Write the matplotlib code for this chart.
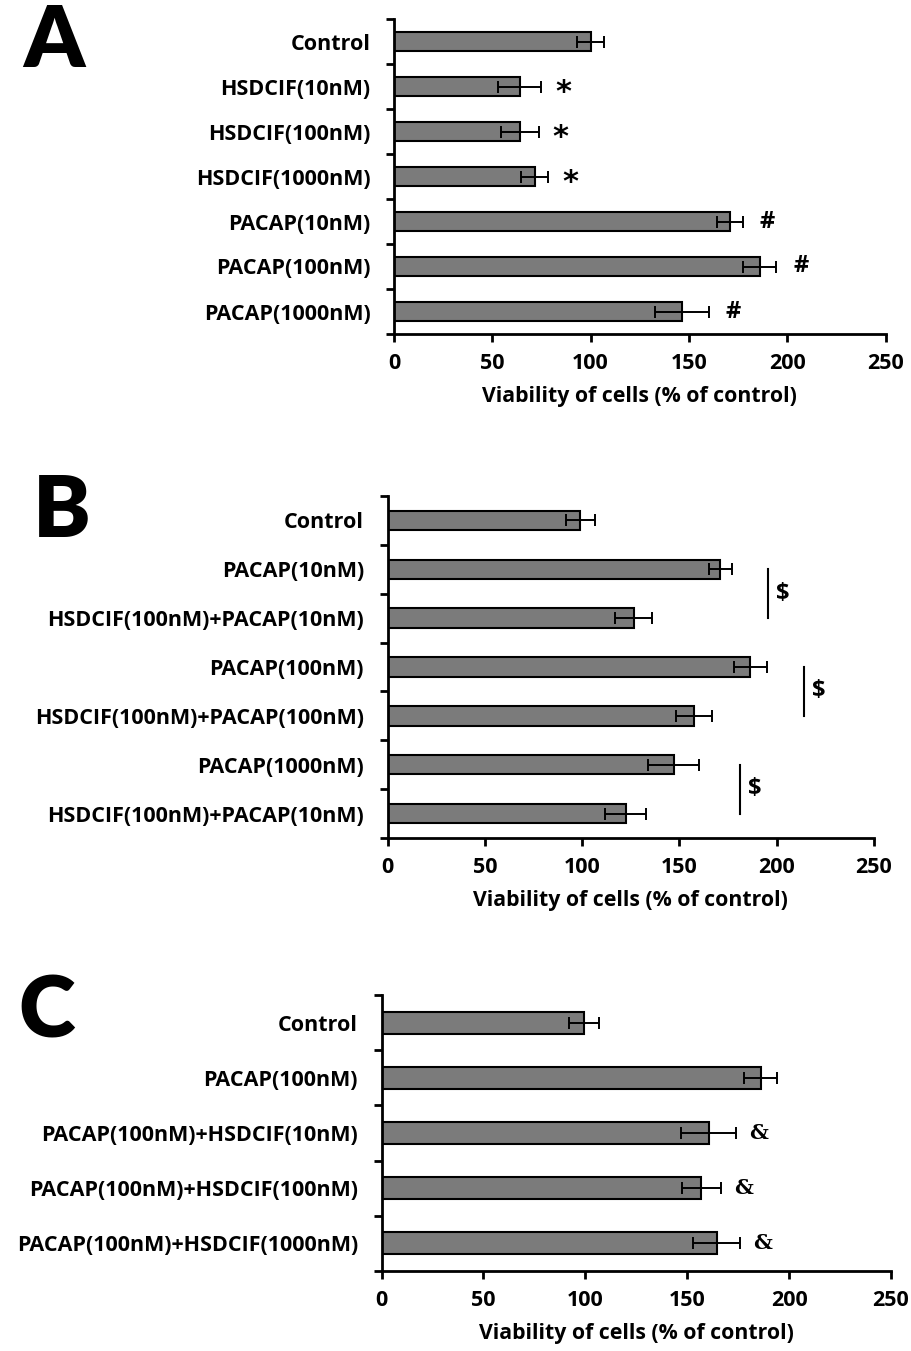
import numpy as np
import matplotlib
matplotlib.use("Agg")
import matplotlib.pyplot as plt

plt.rcParams['font.family'] = ['Open Sans', 'DejaVu Sans']
plt.rcParams['font.weight'] = 'bold'

# panel A
cats_a = ['Control', 'HSDCIF(10nM)', 'HSDCIF(100nM)', 'HSDCIF(1000nM)',
          'PACAP(10nM)', 'PACAP(100nM)', 'PACAP(1000nM)']
vals_a = [100, 64, 64, 71.5, 171, 186, 146.5]
errs_a = [7, 11, 9.5, 7, 6.5, 8.5, 13.5]
marks_a = ['', '*', '*', '*', '#', '#', '#']

# panel B
cats_b = ['Control', 'PACAP(10nM)', 'HSDCIF(100nM)+PACAP(10nM)', 'PACAP(100nM)',
          'HSDCIF(100nM)+PACAP(100nM)', 'PACAP(1000nM)', 'HSDCIF(100nM)+PACAP(10nM)']
vals_b = [99, 171, 126.5, 186.5, 157.5, 147, 122.5]
errs_b = [7.5, 6, 9.5, 8.5, 9.5, 13, 10.5]
# significance brackets: (first row, second row, x of line)
pairs_b = [(1, 2, 195.5), (3, 4, 214), (5, 6, 181)]

# panel C
cats_c = ['Control', 'PACAP(100nM)', 'PACAP(100nM)+HSDCIF(10nM)',
          'PACAP(100nM)+HSDCIF(100nM)', 'PACAP(100nM)+HSDCIF(1000nM)']
vals_c = [99.5, 186, 160.5, 157, 164.5]
errs_c = [7.3, 8, 13.5, 9.5, 11.5]
marks_c = ['', '', '&', '&', '&']

W, H = 911, 1351
fig = plt.figure(figsize=(W / 100, H / 100), dpi=100)


def make_ax(l, r, t, b):
    return fig.add_axes([l / W, 1 - b / H, (r - l) / W, (b - t) / H])


def draw(ax, cats, vals, errs, bh):
    n = len(cats)
    y = np.arange(n)
    ax.barh(y, vals, height=bh, color='#7b7b7b', edgecolor='black', linewidth=1.5,
            xerr=errs, error_kw=dict(ecolor='black', elinewidth=1.4, capsize=4, capthick=1.4))
    ax.set_ylim(n - 0.5, -0.5)
    ax.set_xlim(0, 250)
    ax.set_xticks([0, 50, 100, 150, 200, 250])
    ax.set_yticks(y)
    ax.set_yticklabels(cats, fontsize=15.5, fontweight='bold')
    ax.set_yticks(np.arange(n + 1) - 0.5, minor=True)
    ax.tick_params(axis='y', which='major', length=0, pad=17)
    ax.tick_params(axis='y', which='minor', length=6, width=2, direction='out')
    ax.tick_params(axis='x', length=6, width=2, direction='out', labelsize=15.5, pad=8)
    for lab in ax.get_xticklabels():
        lab.set_fontweight('bold')
    ax.spines['top'].set_visible(False)
    ax.spines['right'].set_visible(False)
    ax.spines['left'].set_linewidth(2)
    ax.spines['bottom'].set_linewidth(2)
    ax.set_xlabel('Viability of cells (% of control)', fontsize=15.3, fontweight='bold', labelpad=8)


ax_a = make_ax(394, 885.5, 19, 334)
draw(ax_a, cats_a, vals_a, errs_a, 0.42)
for i, m in enumerate(marks_a):
    if m == '*':
        ax_a.text(vals_a[i] + errs_a[i] + 11, i + 0.14, m, ha='center', va='center',
                  fontsize=22, fontweight='bold', family='DejaVu Sans')
    elif m:
        ax_a.text(vals_a[i] + errs_a[i] + 12.5, i, m, ha='center', va='center',
                  fontsize=17, fontweight='bold')

ax_b = make_ax(387.5, 874, 496, 838)
draw(ax_b, cats_b, vals_b, errs_b, 0.4)
for r1, r2, xl in pairs_b:
    ax_b.plot([xl, xl], [r1, r2], color='black', lw=1.5)
    ax_b.text(xl + 7.5, (r1 + r2) / 2, '$', ha='center', va='center', fontsize=17, fontweight='bold')

ax_c = make_ax(381.5, 891, 995, 1271)
draw(ax_c, cats_c, vals_c, errs_c, 0.4)
for i, m in enumerate(marks_c):
    if m:
        ax_c.text(vals_c[i] + errs_c[i] + 11, i, m, ha='center', va='center',
                  fontsize=15, fontweight='bold', family='DejaVu Serif')

for lbl, px, py in [('A', 54, 42), ('B', 62, 512), ('C', 47, 1013)]:
    fig.text(px / W, 1 - py / H, lbl, ha='center', va='center', fontsize=62,
             fontweight='heavy', family='Lato')

fig.savefig('out.png', dpi=100)
